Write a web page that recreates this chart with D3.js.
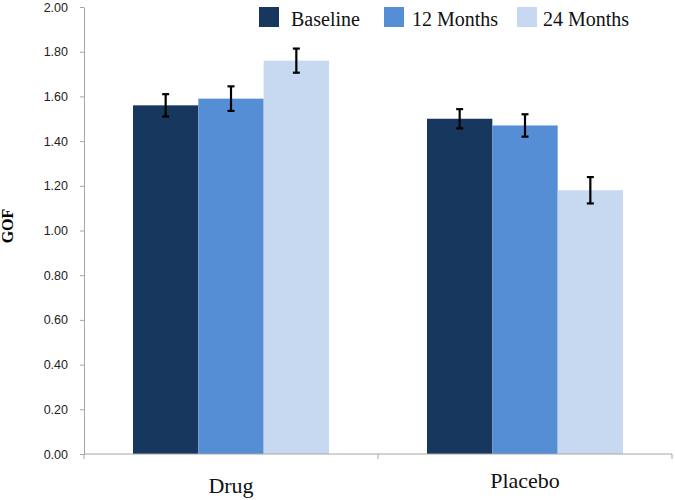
<!DOCTYPE html>
<html>
<head>
<meta charset="utf-8">
<script src="https://cdn.jsdelivr.net/npm/d3@7"></script>
<style>
  html, body { margin: 0; padding: 0; background: #fff; }
  svg { display: block; }
</style>
</head>
<body>
<svg id="chart" width="675" height="500"></svg>
<script>
const categories = ["Drug", "Placebo"];
const seriesNames = ["Baseline", "12 Months", "24 Months"];
const baselineValues = [1.56, 1.50];
const months12Values = [1.59, 1.47];
const months24Values = [1.76, 1.18];
const baselineErrors = [0.050, 0.043];
const months12Errors = [0.055, 0.050];
const months24Errors = [0.054, 0.059];
const yTickValues = [0, 0.2, 0.4, 0.6, 0.8, 1.0, 1.2, 1.4, 1.6, 1.8, 2.0];
const colors = ["#17375E", "#558ED5", "#C6D9F1"];

(function () {
const seriesValues = [baselineValues, months12Values, months24Values];
const seriesErrors = [baselineErrors, months12Errors, months24Errors];

const svg = d3.select("#chart");
const plotLeft = 84, plotRight = 672, plotTop = 7, plotBottom = 454;

const y = d3.scaleLinear().domain([0, 2]).range([plotBottom, plotTop]);
const x0 = d3.scaleBand().domain(categories).range([plotLeft, plotRight])
  .paddingInner(1/3).paddingOuter(1/6);
const x1 = d3.scaleBand().domain(seriesNames).range([0, x0.bandwidth()]).padding(0);

const data = [];
categories.forEach((c, ci) => {
  seriesNames.forEach((s, si) => {
    data.push({cat: c, series: s, si, value: seriesValues[si][ci], err: seriesErrors[si][ci]});
  });
});

// Bars
svg.append("g").selectAll("rect").data(data).join("rect")
  .attr("x", d => x0(d.cat) + x1(d.series))
  .attr("y", d => y(d.value))
  .attr("width", x1.bandwidth())
  .attr("height", d => y(0) - y(d.value))
  .attr("fill", d => colors[d.si]);

// Y axis
const yAxis = d3.axisLeft(y).tickValues(yTickValues).tickFormat(d3.format(".2f"))
  .tickSize(4).tickPadding(12).tickSizeOuter(0);
const gy = svg.append("g").attr("transform", `translate(${plotLeft},0)`).call(yAxis);
gy.select(".domain").attr("stroke", "#A6A6A6");
gy.selectAll(".tick line").attr("stroke", "#A6A6A6");
gy.selectAll(".tick text").attr("font-family", "'Liberation Sans', Arial, sans-serif")
  .attr("font-size", "12.5px").attr("fill", "#222");

// X axis line and boundary ticks
const boundaries = d3.range(categories.length + 1)
  .map(i => plotLeft + i * (plotRight - plotLeft) / categories.length);
svg.append("line").attr("x1", plotLeft).attr("x2", plotRight)
  .attr("y1", plotBottom).attr("y2", plotBottom)
  .attr("stroke", "#A6A6A6").attr("stroke-width", 1);
svg.append("g").selectAll("line").data(boundaries).join("line")
  .attr("x1", d => d).attr("x2", d => d).attr("y1", plotBottom).attr("y2", plotBottom + 5)
  .attr("stroke", "#A6A6A6");

// Category labels
const labelBaselines = [493, 488];
svg.append("g").selectAll("text").data(categories).join("text")
  .attr("x", d => x0(d) + x0.bandwidth() / 2)
  .attr("y", (d, i) => labelBaselines[i])
  .attr("text-anchor", "middle")
  .attr("font-family", "'Liberation Serif', 'Times New Roman', serif")
  .attr("font-size", "22px").attr("fill", "#111")
  .text(d => d);

// Error bars
const eb = svg.append("g").attr("stroke", "#000").attr("stroke-width", 2.2);
data.forEach(d => {
  const cx = x0(d.cat) + x1(d.series) + x1.bandwidth() / 2;
  const y1 = y(d.value + d.err), y2 = y(d.value - d.err);
  eb.append("line").attr("x1", cx).attr("x2", cx).attr("y1", y1).attr("y2", y2);
  eb.append("line").attr("x1", cx - 3.5).attr("x2", cx + 3.5).attr("y1", y1).attr("y2", y1);
  eb.append("line").attr("x1", cx - 3.5).attr("x2", cx + 3.5).attr("y1", y2).attr("y2", y2);
});

// Y axis title
svg.append("text")
  .attr("transform", `translate(13,226) rotate(-90)`)
  .attr("text-anchor", "middle")
  .attr("font-family", "'Liberation Serif', 'Times New Roman', serif")
  .attr("font-weight", "bold").attr("font-size", "16px").attr("fill", "#000")
  .text("GOF");

// Legend
const legendSquareX = [259, 384, 517];
const legendTextX = [291, 412, 543];
const lg = svg.append("g");
seriesNames.forEach((s, i) => {
  lg.append("rect").attr("x", legendSquareX[i]).attr("y", 7).attr("width", 20).attr("height", 20)
    .attr("fill", colors[i]);
  lg.append("text").attr("x", legendTextX[i]).attr("y", 26)
    .attr("font-family", "'Liberation Serif', 'Times New Roman', serif")
    .attr("font-size", "20px").attr("fill", "#111").text(s);
});
})();
</script>
</body>
</html>
